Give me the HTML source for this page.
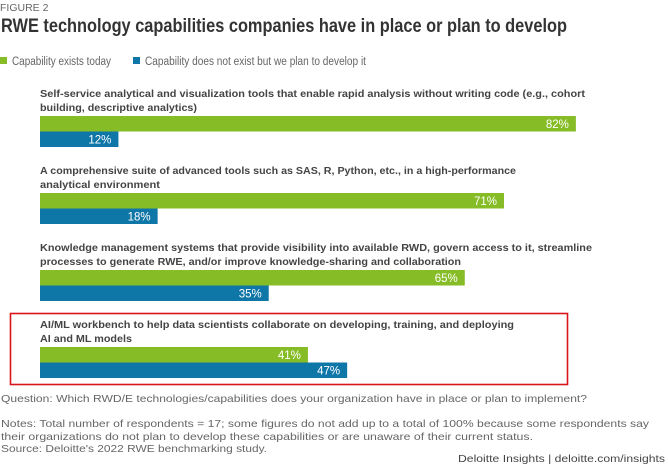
<!DOCTYPE html>
<html><head><meta charset="utf-8"><style>
body{margin:0;background:#fff;width:668px;height:466px;overflow:hidden;font-family:"Liberation Sans",sans-serif}
</style></head><body>
<svg width="668" height="466" style="font-family:'Liberation Sans',sans-serif">
<text x="0" y="11" font-size="10.5" fill="#666">FIGURE 2</text>
<text x="1" y="32" font-size="19" font-weight="bold" fill="#333" textLength="566" lengthAdjust="spacingAndGlyphs">RWE technology capabilities companies have in place or plan to develop</text>
<rect x="0" y="57" width="7" height="7" fill="#86bc25"/>
<text x="12" y="65" font-size="11.5" fill="#666" textLength="99" lengthAdjust="spacingAndGlyphs">Capability exists today</text>
<rect x="133" y="57" width="7" height="7" fill="#0f76a8"/>
<text x="145" y="65" font-size="11.5" fill="#666" textLength="221" lengthAdjust="spacingAndGlyphs">Capability does not exist but we plan to develop it</text>
<g id="bars"></g>
<rect x="10.5" y="313.5" width="557" height="71" fill="none" stroke="#d9141b" stroke-width="1.6"/>
<text x="1" y="402" font-size="10.5" fill="#666" textLength="586" lengthAdjust="spacingAndGlyphs">Question: Which RWD/E technologies/capabilities does your organization have in place or plan to implement?</text>
<text x="1" y="427" font-size="10.5" fill="#666" textLength="648" lengthAdjust="spacingAndGlyphs">Notes: Total number of respondents = 17; some figures do not add up to a total of 100% because some respondents say</text>
<text x="1" y="440" font-size="10.5" fill="#666" textLength="532" lengthAdjust="spacingAndGlyphs">their organizations do not plan to develop these capabilities or are unaware of their current status.</text>
<text x="1" y="452" font-size="10.5" fill="#666" textLength="266" lengthAdjust="spacingAndGlyphs">Source: Deloitte's 2022 RWE benchmarking study.</text>
<text x="665" y="462" font-size="10.5" fill="#444" text-anchor="end" textLength="207" lengthAdjust="spacingAndGlyphs">Deloitte Insights | deloitte.com/insights</text>
</svg>
<script>
const categories1=["Self-service analytical and visualization tools that enable rapid analysis without writing code (e.g., cohort","A comprehensive suite of advanced tools such as SAS, R, Python, etc., in a high-performance","Knowledge management systems that provide visibility into available RWD, govern access to it, streamline","AI/ML workbench to help data scientists collaborate on developing, training, and deploying"];
const categories2=["building, descriptive analytics)","analytical environment","processes to generate RWE, and/or improve knowledge-sharing and collaboration","AI and ML models"];
const existsToday=[82,71,65,41];
const planToDevelop=[12,18,35,47];
const valueLabelsExists=["82%","71%","65%","41%"];
const valueLabelsPlan=["12%","18%","35%","47%"];
const line1Widths=[545,476,552,474];
const line2Widths=[157,120,421,92];
const NS="http://www.w3.org/2000/svg";
const g=document.getElementById("bars");
function xScale(v){return 40+v*6.535;}
function groupY(i){return 116+i*77;}
function mk(tag,attrs){const e=document.createElementNS(NS,tag);for(const k in attrs)e.setAttribute(k,attrs[k]);g.appendChild(e);return e;}
categories1.forEach((c,i)=>{
  const y=groupY(i);
  let t=mk("text",{x:40,y:y-19,"font-size":10.5,"font-weight":"bold",fill:"#444",textLength:line1Widths[i],lengthAdjust:"spacingAndGlyphs"});
  t.textContent=c;
  
  
  t=mk("text",{x:40,y:y-5,"font-size":10.5,"font-weight":"bold",fill:"#444",textLength:line2Widths[i],lengthAdjust:"spacingAndGlyphs"});
  t.textContent=categories2[i];
  
  
  let r=mk("rect",{x:40,y:y,width:xScale(existsToday[i])-40,height:15.5,fill:"#86bc25"});
  
  
  r=mk("rect",{x:40,y:y+15.5,width:xScale(planToDevelop[i])-40,height:15.5,fill:"#0f76a8"});
  
  
  t=mk("text",{x:xScale(existsToday[i])-7,y:y+12,"font-size":11.5,fill:"#fff","text-anchor":"end"});
  t.textContent=valueLabelsExists[i];
  
  
  t=mk("text",{x:xScale(planToDevelop[i])-7,y:y+27.5,"font-size":11.5,fill:"#fff","text-anchor":"end"});
  t.textContent=valueLabelsPlan[i];
  
  
});
</script>
</body></html>
